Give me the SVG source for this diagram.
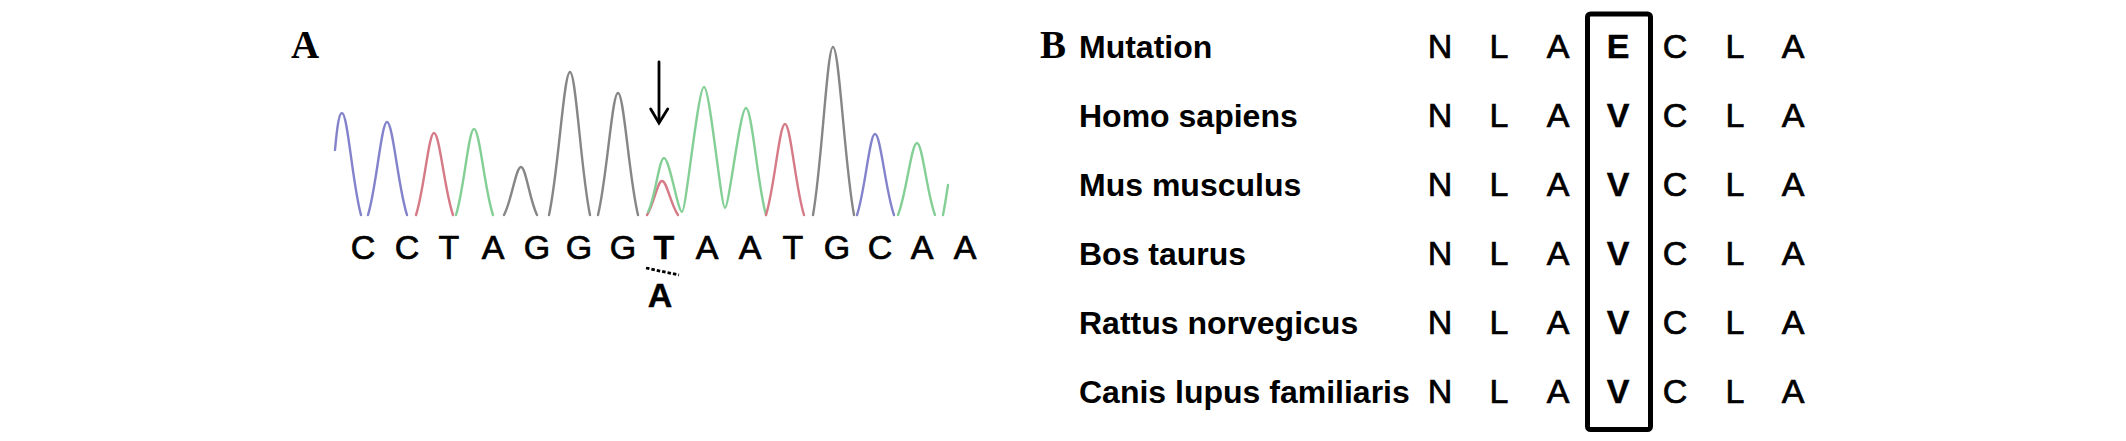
<svg xmlns="http://www.w3.org/2000/svg" width="2126" height="441" viewBox="0 0 2126 441">
<style>
.panel{font-family:"Liberation Serif","Times New Roman",serif;font-weight:bold;font-size:39px;fill:#000}
.seq{font-family:"Liberation Sans",Arial,sans-serif;font-size:34px;fill:#000;stroke:#000;stroke-width:0.7;text-anchor:middle}
.b{font-weight:bold;stroke-width:0.4}
.name{font-family:"Liberation Sans",Arial,sans-serif;font-weight:bold;font-size:32px;fill:#000}
.tr{fill:none;stroke-width:2.4;stroke-linejoin:round;stroke-linecap:round}
.blue{stroke:#8383cc}
.red{stroke:#d57a86}
.green{stroke:#84cf96}
.gray{stroke:#868686}
</style>
<rect width="2126" height="441" fill="#fff"/>
<g id="panel-a">
<text class="panel" x="291" y="58">A</text>
<g id="chromatogram">
<path class="tr blue" d="M335,150 C337,128 339,113 342,113 C347.7,113 352.5,184.4 361,215"/>
<path class="tr blue" d="M368,215 C376.55,187.1 381.3,122 387,122 C393,122 398,187.1 407,215"/>
<path class="tr red" d="M416,215 C424.1,190.4 428.6,133 434,133 C439.7,133 444.45,190.4 453,215"/>
<path class="tr green" d="M456,215 C464.1,189.2 468.6,129 474,129 C479.7,129 484.45,189.2 493,215"/>
<path class="tr gray" d="M504,215 C511.65,200.6 515.9,167 521,167 C525.8,167 529.8,200.6 537,215"/>
<path class="tr gray" d="M549,215 C558.45,172.1 563.7,72 570,72 C576,72 581,172.1 590,215"/>
<path class="tr gray" d="M598,215 C607,178.4 612,93 618,93 C624,93 629,178.4 638,215"/>
<path class="tr red" d="M647,215 C653.75,204.8 657.5,181 662,181 C666.8,181 670.8,204.8 678,215"/>
<path class="tr green" d="M648,212 C655.2,197.9 659.2,158 664,158 C669.5,158 678,212 682,212 C686,212 698,87 704,87 C710,87 721,208 725,208 C729,208 740,108 746,108 C752,108 757.5,185 766,215"/>
<path class="tr red" d="M766,215 C774.55,187.7 779.3,124 785,124 C790.7,124 795.45,187.7 804,215"/>
<path class="tr gray" d="M813,215 C822,164.6 827,47 833,47 C839.3,47 844.55,164.6 854,215"/>
<path class="tr blue" d="M857,215 C865.1,190.7 869.6,134 875,134 C880.7,134 885.45,190.7 894,215"/>
<path class="tr green" d="M898,215 C906.55,193.4 911.3,143 917,143 C922.4,143 926.9,193.4 935,215"/>
<path class="tr green" d="M943,215 C945,205 946.5,195 948,185"/>
</g>
<g id="arrow" stroke="#000" stroke-width="2.8" fill="none" stroke-linecap="round">
<line x1="659" y1="62" x2="659" y2="122"/>
<polyline points="650.7,109 659,123 667.7,109"/>
</g>
<g id="sequence">
<text class="seq" x="363" y="259">C</text>
<text class="seq" x="407" y="259">C</text>
<text class="seq" x="449" y="259">T</text>
<text class="seq" x="493" y="259">A</text>
<text class="seq" x="537" y="259">G</text>
<text class="seq" x="579" y="259">G</text>
<text class="seq" x="623" y="259">G</text>
<text class="seq b" x="664" y="259">T</text>
<text class="seq" x="707" y="259">A</text>
<text class="seq" x="750" y="259">A</text>
<text class="seq" x="793" y="259">T</text>
<text class="seq" x="837" y="259">G</text>
<text class="seq" x="880" y="259">C</text>
<text class="seq" x="922" y="259">A</text>
<text class="seq" x="965" y="259">A</text>
</g>
<g id="substitution">
<line x1="646" y1="268" x2="679" y2="275" stroke="#000" stroke-width="2.8" stroke-dasharray="3.5 2"/>
<text class="seq b" x="660" y="307" font-size="32">A</text>
</g>
</g>
<g id="panel-b">
<text class="panel" x="1040" y="58">B</text>
<g id="names">
<text class="name" x="1079" y="58">Mutation</text>
<text class="name" x="1079" y="127">Homo sapiens</text>
<text class="name" x="1079" y="196">Mus musculus</text>
<text class="name" x="1079" y="265">Bos taurus</text>
<text class="name" x="1079" y="334">Rattus norvegicus</text>
<text class="name" x="1079" y="403">Canis lupus familiaris</text>
</g>
<g id="alignment">
<g id="row-mutation"><text class="seq" x="1440" y="58">N</text><text class="seq" x="1499" y="58">L</text><text class="seq" x="1558" y="58">A</text><text class="seq b" x="1618" y="58">E</text><text class="seq" x="1675" y="58">C</text><text class="seq" x="1735" y="58">L</text><text class="seq" x="1793" y="58">A</text></g>
<g id="row-homo"><text class="seq" x="1440" y="127">N</text><text class="seq" x="1499" y="127">L</text><text class="seq" x="1558" y="127">A</text><text class="seq b" x="1618" y="127">V</text><text class="seq" x="1675" y="127">C</text><text class="seq" x="1735" y="127">L</text><text class="seq" x="1793" y="127">A</text></g>
<g id="row-mus"><text class="seq" x="1440" y="196">N</text><text class="seq" x="1499" y="196">L</text><text class="seq" x="1558" y="196">A</text><text class="seq b" x="1618" y="196">V</text><text class="seq" x="1675" y="196">C</text><text class="seq" x="1735" y="196">L</text><text class="seq" x="1793" y="196">A</text></g>
<g id="row-bos"><text class="seq" x="1440" y="265">N</text><text class="seq" x="1499" y="265">L</text><text class="seq" x="1558" y="265">A</text><text class="seq b" x="1618" y="265">V</text><text class="seq" x="1675" y="265">C</text><text class="seq" x="1735" y="265">L</text><text class="seq" x="1793" y="265">A</text></g>
<g id="row-rattus"><text class="seq" x="1440" y="334">N</text><text class="seq" x="1499" y="334">L</text><text class="seq" x="1558" y="334">A</text><text class="seq b" x="1618" y="334">V</text><text class="seq" x="1675" y="334">C</text><text class="seq" x="1735" y="334">L</text><text class="seq" x="1793" y="334">A</text></g>
<g id="row-canis"><text class="seq" x="1440" y="403">N</text><text class="seq" x="1499" y="403">L</text><text class="seq" x="1558" y="403">A</text><text class="seq b" x="1618" y="403">V</text><text class="seq" x="1675" y="403">C</text><text class="seq" x="1735" y="403">L</text><text class="seq" x="1793" y="403">A</text></g>
</g>
<rect id="highlight-box" x="1587.5" y="14" width="63" height="415.5" rx="3" fill="none" stroke="#000" stroke-width="5"/>
</g>
</svg>
